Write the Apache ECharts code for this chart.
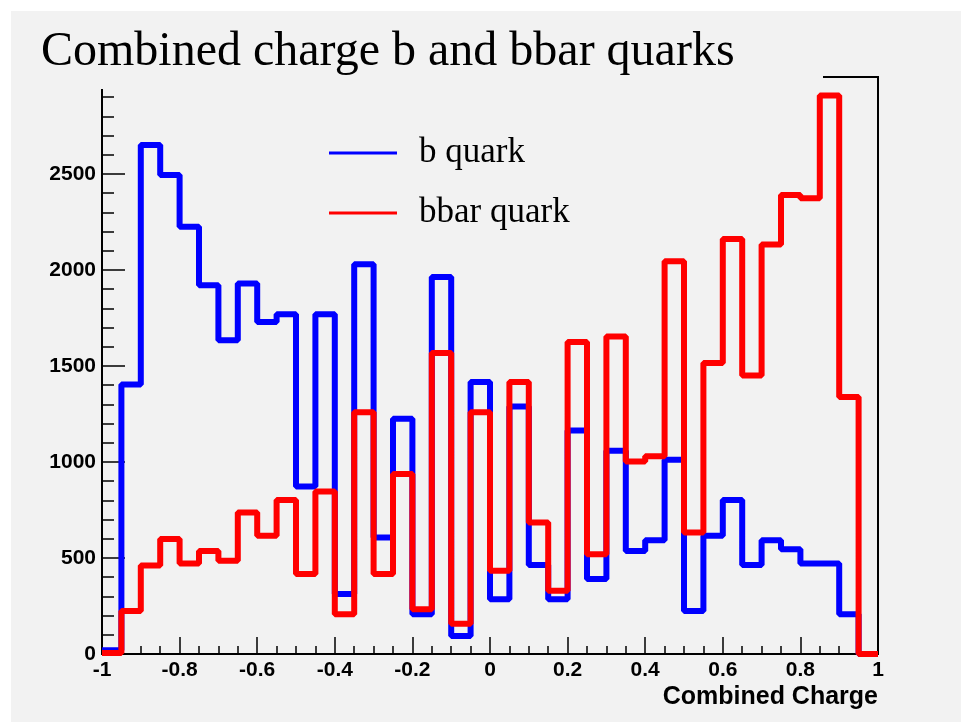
<!DOCTYPE html>
<html>
<head>
<meta charset="utf-8">
<script src="https://cdn.jsdelivr.net/npm/echarts@6/dist/echarts.min.js"></script>
<style>
html,body{margin:0;padding:0;background:#ffffff;}
#chart{width:961px;height:722px;}
</style>
</head>
<body>
<div id="chart"></div>
<script>
// Histogram: 40 bins of width 0.05 from -1 to 1
const binStart = -1;
const binWidth = 0.05;
const bQuark = [20, 1404, 2651, 2495, 2225, 1921, 1634, 1929, 1729, 1769,
                872, 1769, 312, 2030, 607, 1225, 207, 1964, 94, 1416,
                285, 1289, 464, 285, 1164, 390, 1059, 537, 593, 1012,
                224, 616, 802, 463, 593, 546, 471, 471, 207, 0];
const bbarQuark = [5, 224, 461, 599, 471, 537, 485, 737, 616, 802,
                   416, 846, 207, 1259, 416, 938, 233, 1567, 158, 1259,
                   433, 1416, 685, 329, 1625, 520, 1654, 1002, 1030, 2046,
                   633, 1515, 2161, 1451, 2133, 2390, 2373, 2909, 1338, 0];
const seriesNames = ['b quark', 'bbar quark'];
const titleText = 'Combined charge b and bbar quarks';
const xTitle = 'Combined Charge';

function toSteps(vals) {
  const pts = vals.map((v, i) => [+(binStart + i * binWidth).toFixed(4), v]);
  pts.push([+(binStart + vals.length * binWidth).toFixed(4), vals[vals.length - 1]]);
  return pts;
}

const chart = echarts.init(document.getElementById('chart'), null, {renderer: 'canvas'});
const labelFont = {fontFamily: 'Liberation Sans', fontWeight: 'bold', fontSize: 21, color: '#000'};
chart.setOption({
  animation: false,
  backgroundColor: '#ffffff',
  graphic: [
    {type: 'rect', z: -10, silent: true, shape: {x: 11, y: 11, width: 950, height: 711}, style: {fill: '#f2f2f2'}},
    {type: 'rect', z: 50, silent: true, shape: {x: 11, y: 11, width: 812, height: 78}, style: {fill: '#f2f2f2'}}
  ],
  title: {
    text: titleText,
    left: 36, top: 23, z: 60,
    textStyle: {fontFamily: 'Liberation Serif', fontWeight: 'normal', fontSize: 48, color: '#000'}
  },
  legend: {
    orient: 'vertical', left: 324, top: 130, z: 60,
    icon: 'rect', itemWidth: 68, itemHeight: 3, itemGap: 24,
    data: seriesNames,
    textStyle: {fontFamily: 'Liberation Serif', fontSize: 35, color: '#000', lineHeight: 36, padding: [0, 0, 0, 17]}
  },
  grid: {left: 102, right: 83, top: 77, bottom: 68, show: true, borderColor: '#000', borderWidth: 2, backgroundColor: 'transparent'},
  xAxis: {
    type: 'value', min: -1, max: 1, interval: 0.2,
    name: xTitle, nameLocation: 'end', nameGap: 0,
    nameTextStyle: {fontFamily: 'Liberation Sans', fontWeight: 'bold', fontSize: 25, color: '#000', align: 'right', verticalAlign: 'top', padding: [31, 0, 0, 0]},
    axisLine: {show: true, onZero: false, lineStyle: {color: '#000', width: 2}},
    axisTick: {show: true, inside: true, length: 17, lineStyle: {color: '#000', width: 1.5}},
    minorTick: {show: true, splitNumber: 4, length: 8, lineStyle: {color: '#000', width: 1.5}},
    axisLabel: Object.assign({margin: 6, formatter: v => String(v)}, labelFont),
    splitLine: {show: false}
  },
  yAxis: {
    type: 'value', min: 0, max: 3005, interval: 500,
    axisLine: {show: true, onZero: false, lineStyle: {color: '#000', width: 2}},
    axisTick: {show: true, inside: true, length: 23, lineStyle: {color: '#000', width: 1.5}},
    minorTick: {show: true, splitNumber: 5, length: 12, lineStyle: {color: '#000', width: 1.5}},
    axisLabel: Object.assign({margin: 6, formatter: v => String(v)}, labelFont),
    splitLine: {show: false}
  },
  series: [
    {name: seriesNames[0], type: 'line', step: 'end', symbol: 'none', data: toSteps(bQuark),
     lineStyle: {color: '#0000ff', width: 6}, itemStyle: {color: '#0000ff'}, z: 3},
    {name: seriesNames[1], type: 'line', step: 'end', symbol: 'none', data: toSteps(bbarQuark),
     lineStyle: {color: '#ff0000', width: 6}, itemStyle: {color: '#ff0000'}, z: 4}
  ]
});
</script>
</body>
</html>
